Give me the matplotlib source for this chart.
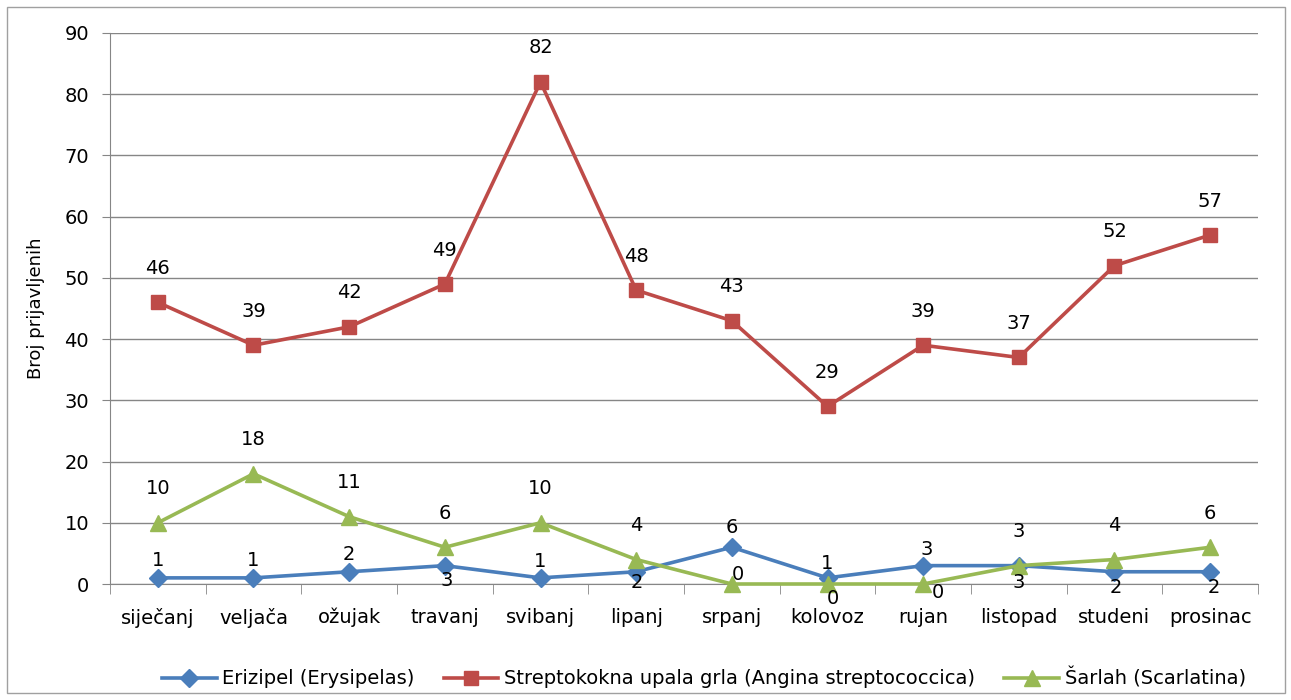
import matplotlib.pyplot as plt
from matplotlib.patches import Rectangle

plt.rcParams['font.family'] = ['DejaVu Sans']

months = ['siječanj', 'veljača', 'ožujak', 'travanj', 'svibanj', 'lipanj',
          'srpanj', 'kolovoz', 'rujan', 'listopad', 'studeni', 'prosinac']
erizipel = [1, 1, 2, 3, 1, 2, 6, 1, 3, 3, 2, 2]
angina = [46, 39, 42, 49, 82, 48, 43, 29, 39, 37, 52, 57]
sarlah = [10, 18, 11, 6, 10, 4, 0, 0, 0, 3, 4, 6]

# data label offsets in pixels (dx, dy), as placed in the original sheet
erizipel_off = [(0, 17), (0, 17), (0, 17), (2, -15), (0, 16), (1, -11),
                (0, 20), (0, 14), (4, 16), (0, -17), (1, -16), (4, -16)]
angina_off = [(0, 34)] * 12
sarlah_off = [(0, 34)] * 6 + [(6, 10), (5, -14), (15, -8)] + [(0, 34)] * 3

blue = '#4A7EBB'
red = '#BE4B48'
green = '#98B954'

fig = plt.figure(figsize=(12.91, 7), dpi=100)
fig.patches.append(Rectangle((7/1291, 7/700), 1278/1291, 686/700, transform=fig.transFigure,
                             fill=False, edgecolor='#A0A0A0', linewidth=1))
ax = fig.add_axes([110/1291, 1-584/700, 1148/1291, 551/700])

x = list(range(len(months)))
ax.plot(x, erizipel, color=blue, lw=2.6, marker='D', ms=9, clip_on=False,
        label='Erizipel (Erysipelas)', zorder=3)
ax.plot(x, angina, color=red, lw=2.6, marker='s', ms=10, clip_on=False,
        label='Streptokokna upala grla (Angina streptococcica)', zorder=3)
ax.plot(x, sarlah, color=green, lw=2.6, marker='^', ms=11, clip_on=False,
        label='Šarlah (Scarlatina)', zorder=3)

fs = 14
px = 0.72  # pixels -> points at dpi 100
for vals, offs in [(angina, angina_off), (erizipel, erizipel_off), (sarlah, sarlah_off)]:
    for i, v in enumerate(vals):
        dx, dy = offs[i]
        ax.annotate(str(v), (i, v), xytext=(dx*px, dy*px), textcoords='offset points',
                    ha='center', va='center', fontsize=fs, zorder=4)

ax.set_xlim(-0.5, 11.5)
ax.set_ylim(0, 90)
ax.set_yticks(range(0, 91, 10))
ax.set_xticks(x)
ax.set_xticklabels(months, fontsize=fs)
ax.set_xticks([i - 0.5 for i in range(13)], minor=True)
ax.tick_params(axis='x', which='major', length=0, pad=17)
ax.tick_params(axis='x', which='minor', length=7, color='#868686', direction='out')
ax.tick_params(axis='y', length=6, color='#868686', labelsize=fs, pad=9)
ax.grid(axis='y', color='#868686', lw=1)
ax.set_axisbelow(True)
for s in ['top', 'right']:
    ax.spines[s].set_visible(False)
for s in ['left', 'bottom']:
    ax.spines[s].set_color('#868686')
ax.set_ylabel('Broj prijavljenih', fontsize=13, labelpad=14)

fig.legend(loc='center', bbox_to_anchor=(704/1291, 1-678/700), ncol=3, frameon=False,
           fontsize=fs, handlelength=2.8, columnspacing=1.5, handletextpad=0.3)

plt.savefig('out.png', dpi=100)
